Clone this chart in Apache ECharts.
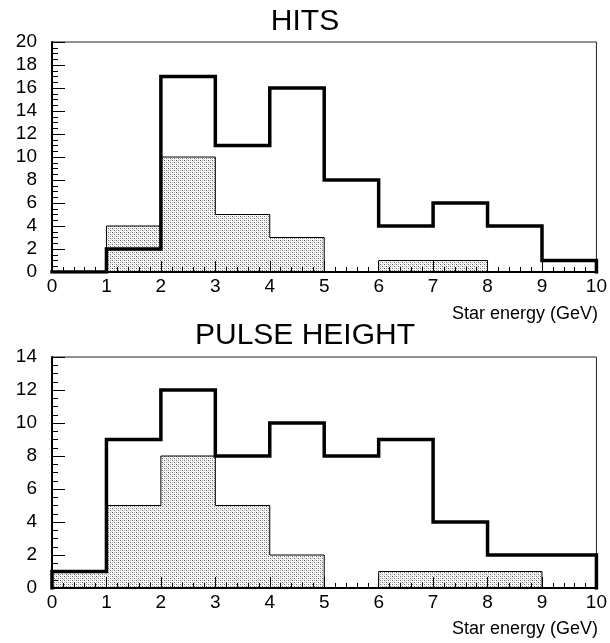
<!DOCTYPE html>
<html>
<head>
<meta charset="utf-8">
<script src="https://cdn.jsdelivr.net/npm/echarts@6/dist/echarts.min.js"></script>
<style>
  html, body { margin: 0; padding: 0; background: #fff; }
  #chart { width: 610px; height: 643px; }
</style>
</head>
<body>
<div id="chart"></div>
<script>
// Bin edges: 0..10 GeV in 1 GeV bins
const binEdges = [0, 1, 2, 3, 4, 5, 6, 7, 8, 9, 10];

// HITS histograms (counts per bin)
const hitsAll    = [0, 2, 17, 11, 16, 8, 4, 6, 4, 1];
const hitsShaded = [0, 4, 10, 5, 3, 0, 1, 1, 0, 0];

// PULSE HEIGHT histograms (counts per bin)
const pulseAll    = [1, 9, 12, 8, 10, 8, 9, 4, 2, 2];
const pulseShaded = [1, 5, 8, 5, 2, 0, 1, 1, 1, 0];

const xTicks = [0, 1, 2, 3, 4, 5, 6, 7, 8, 9, 10];
const hitsYMax = 20;
const pulseYMax = 14;

// Turn bin counts into step-line points that start and end on the axis
function histPoints(counts) {
  const pts = [[binEdges[0], 0]];
  for (let i = 0; i < counts.length; i++) pts.push([binEdges[i], counts[i]]);
  const last = binEdges[binEdges.length - 1];
  pts.push([last, counts[counts.length - 1]]);
  pts.push([last, 0]);
  return pts;
}

// Stippled fill for the shaded histogram
function makeStipple() {
  const c = document.createElement('canvas');
  c.width = 4; c.height = 4;
  const g = c.getContext('2d');
  g.fillStyle = '#ffffff';
  g.fillRect(0, 0, 4, 4);
  g.fillStyle = '#6a6a6a';
  g.fillRect(0, 0, 1, 1);
  g.fillRect(2, 2, 1, 1);
  g.fillStyle = '#b4b4b4';
  g.fillRect(2, 0, 1, 1);
  g.fillRect(0, 2, 1, 1);
  g.fillStyle = '#dcdcdc';
  g.fillRect(1, 1, 1, 1);
  g.fillRect(3, 3, 1, 1);
  return { image: c, repeat: 'repeat' };
}
const stipple = makeStipple();

const labelFont = { color: '#000', fontFamily: 'Liberation Sans', fontSize: 19 };

function xAxisDef(gridIndex) {
  return {
    type: 'value', gridIndex, min: 0, max: 10, interval: 1, z: 5,
    axisLine: { show: true, onZero: false, lineStyle: { color: '#000', width: 2 } },
    axisTick: { show: true, inside: true, length: 11, lineStyle: { color: '#000', width: 1 } },
    minorTick: { show: true, splitNumber: 5, length: 5, lineStyle: { color: '#000', width: 1 } },
    axisLabel: Object.assign({ margin: 5, formatter: v => xTicks.includes(v) ? String(v) : '' }, labelFont),
    splitLine: { show: false }
  };
}

function yAxisDef(gridIndex, max) {
  return {
    type: 'value', gridIndex, min: 0, max, interval: 2, z: 5,
    axisLine: { show: true, lineStyle: { color: '#000', width: 2 } },
    axisTick: { show: true, inside: true, length: 13, lineStyle: { color: '#000', width: 1 } },
    minorTick: { show: true, splitNumber: 4, length: 6, lineStyle: { color: '#000', width: 1 } },
    axisLabel: Object.assign({ margin: 15 }, labelFont),
    splitLine: { show: false }
  };
}

function shadedSeries(idx, counts) {
  return {
    type: 'line', xAxisIndex: idx, yAxisIndex: idx, step: 'end',
    data: histPoints(counts), symbol: 'none', silent: true, z: 2,
    lineStyle: { color: '#000', width: 1 },
    areaStyle: { color: stipple, opacity: 1, origin: 'start' }
  };
}

function outlineSeries(idx, counts) {
  return {
    type: 'line', xAxisIndex: idx, yAxisIndex: idx, step: 'end',
    data: histPoints(counts), symbol: 'none', silent: true, z: 3,
    lineStyle: { color: '#000', width: 3.5, join: 'miter', cap: 'square' }
  };
}

const chart = echarts.init(document.getElementById('chart'), null, { renderer: 'canvas' });

const titleFont = { color: '#000', fontFamily: 'Liberation Sans', fontSize: 30, fontWeight: 'normal' };
const nameFont = { color: '#000', fontFamily: 'Liberation Sans', fontSize: 18, fontWeight: 'normal' };

chart.setOption({
  animation: false,
  backgroundColor: '#fff',
  title: [
    { text: 'HITS', left: 'center', top: 2, textStyle: titleFont },
    { text: 'Star energy (GeV)', right: 7, top: 300, textStyle: nameFont },
    { text: 'PULSE HEIGHT', left: 'center', top: 316, textStyle: titleFont },
    { text: 'Star energy (GeV)', right: 7, top: 615, textStyle: nameFont }
  ],
  grid: [
    { left: 52, top: 42, width: 546, height: 230, show: true, borderColor: '#222', borderWidth: 1 },
    { left: 52, top: 357, width: 546, height: 231, show: true, borderColor: '#222', borderWidth: 1 }
  ],
  xAxis: [xAxisDef(0), xAxisDef(1)],
  yAxis: [yAxisDef(0, hitsYMax), yAxisDef(1, pulseYMax)],
  series: [
    shadedSeries(0, hitsShaded),
    outlineSeries(0, hitsAll),
    shadedSeries(1, pulseShaded),
    outlineSeries(1, pulseAll)
  ]
});
</script>
</body>
</html>
